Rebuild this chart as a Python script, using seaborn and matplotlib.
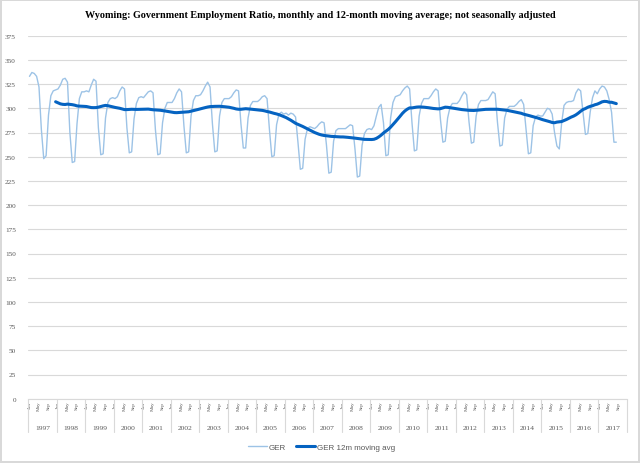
import matplotlib
matplotlib.use("Agg")
import matplotlib.pyplot as plt
import matplotlib.transforms as mtransforms
import numpy as np
import pandas as pd
import seaborn as sns

TITLE = ("Wyoming: Government Employment Ratio, monthly and 12-month moving average; "
         "not seasonally adjusted")

# monthly GER values (Jan..Dec per year)
ger_1997 = [333, 337, 336, 333, 322, 278, 248, 251, 293, 313, 318, 319]
ger_1998 = [320, 324, 330, 331, 327, 275, 244, 245, 284, 310, 317, 317]
ger_1999 = [318, 317, 324, 330, 328, 280, 252, 253, 290, 306, 310, 311]
ger_2000 = [310, 312, 318, 322, 320, 280, 254, 255, 289, 305, 311, 312]
ger_2001 = [311, 314, 317, 318, 316, 278, 252, 253, 285, 300, 306, 306]
ger_2002 = [306, 310, 316, 320, 317, 282, 254, 255, 292, 308, 313, 313]
ger_2003 = [314, 318, 323, 327, 322, 284, 255, 256, 292, 306, 310, 310]
ger_2004 = [310, 312, 316, 319, 318, 284, 259, 259, 290, 303, 307, 307]
ger_2005 = [307, 309, 312, 313, 310, 278, 250, 251, 283, 294, 296, 294]
ger_2006 = [295, 293, 295, 294, 291, 265, 237, 238, 268, 279, 281, 280]
ger_2007 = [279, 281, 284, 286, 285, 262, 233, 234, 266, 277, 279, 279]
ger_2008 = [279, 279, 281, 283, 282, 258, 229, 230, 262, 274, 278, 279]
ger_2009 = [278, 282, 292, 301, 304, 285, 251, 252, 290, 306, 312, 313]
ger_2010 = [314, 318, 321, 323, 320, 285, 256, 257, 292, 305, 310, 310]
ger_2011 = [310, 313, 317, 320, 318, 288, 265, 266, 290, 301, 305, 305]
ger_2012 = [305, 308, 313, 317, 314, 286, 264, 265, 292, 304, 308, 308]
ger_2013 = [308, 309, 313, 317, 315, 285, 261, 262, 290, 299, 302, 302]
ger_2014 = [302, 304, 307, 309, 304, 278, 253, 254, 282, 291, 293, 292]
ger_2015 = [292, 296, 300, 299, 294, 275, 261, 258, 285, 303, 306, 307]
ger_2016 = [307, 308, 316, 320, 318, 296, 273, 274, 296, 311, 318, 315]
ger_2017 = [320, 323, 322, 318, 309, 296, 265, 265]

years = list(range(1997, 2018))
month_ticks = ["Jan", "May", "Sep"]
y_ticks = list(range(0, 376, 25))

GER_COLOR = "#9dc3e6"
MA_COLOR = "#0563c1"
GRID = "#d9d9d9"
TEXT = "#595959"
SERIF = ["Liberation Serif", "DejaVu Serif"]
SANS = ["Liberation Sans", "DejaVu Sans"]

ger = (ger_1997 + ger_1998 + ger_1999 + ger_2000 + ger_2001 + ger_2002 + ger_2003
       + ger_2004 + ger_2005 + ger_2006 + ger_2007 + ger_2008 + ger_2009 + ger_2010
       + ger_2011 + ger_2012 + ger_2013 + ger_2014 + ger_2015 + ger_2016 + ger_2017)

df = pd.DataFrame({"month": np.arange(len(ger)), "GER": ger})
df["GER 12m moving avg"] = df["GER"].rolling(12).mean()

sns.set_style("white")

fig = plt.figure(figsize=(6.4, 4.64), dpi=100)
fig.patch.set_edgecolor(GRID)
fig.patch.set_linewidth(1.5)
ax = fig.add_axes([28.3 / 640, 64.3 / 464, (627 - 28.3) / 640, 363 / 464])

sns.lineplot(data=df, x="month", y="GER", color=GER_COLOR, linewidth=1.0,
             label="GER", ax=ax)
sns.lineplot(data=df.dropna(), x="month", y="GER 12m moving avg", color=MA_COLOR,
             linewidth=2.2, label="GER 12m moving avg", ax=ax)

n_cat = len(years) * 12
ax.set_xlim(-0.5, n_cat - 0.5)
ax.set_ylim(0, 375)
ax.set_yticks(y_ticks)
ax.set_yticklabels([str(v) for v in y_ticks], family=SERIF, fontsize=5.2, color=TEXT)
ax.yaxis.grid(True, color=GRID, linewidth=0.8)
ax.set_axisbelow(True)

pos, labs = [], []
for i, yr in enumerate(years):
    for j, m in enumerate(month_ticks):
        pos.append(i * 12 + j * 4)
        labs.append(m)
ax.set_xticks(pos)
ax.set_xticklabels(labs, rotation=90, family=SERIF, fontsize=3.8, color=TEXT)
ax.tick_params(axis="x", length=0, pad=1.5)
ax.tick_params(axis="y", length=0, pad=9)
ax.set_xlabel("")
ax.set_ylabel("")

for side in ["top", "right", "left"]:
    ax.spines[side].set_visible(False)
ax.spines["bottom"].set_color(GRID)
ax.spines["bottom"].set_linewidth(0.8)

# year separators and year labels under the month labels
trans = mtransforms.blended_transform_factory(ax.transData, ax.transAxes)
for k in range(len(years) + 1):
    ax.plot([k * 12 - 0.5] * 2, [0, -0.092], transform=trans, clip_on=False,
            color=GRID, linewidth=0.8)
for i, yr in enumerate(years):
    ax.text(i * 12 + 5.5, -0.078, str(yr), transform=trans, ha="center", va="center",
            family=SERIF, fontsize=5.4, color=TEXT)

fig.text(0.5, 1 - 16 / 464, TITLE, ha="center", va="center", family=SERIF,
         fontweight="bold", fontsize=7.3, color="black")

ax.legend(loc="center", bbox_to_anchor=(321.5 / 640, 16.3 / 464),
          bbox_transform=fig.transFigure, ncol=2, frameon=False,
          prop={"family": SANS, "size": 5.8}, labelcolor=TEXT,
          handlelength=2.4, handletextpad=0.2, columnspacing=1.2)

plt.savefig("out.png", dpi=100)
